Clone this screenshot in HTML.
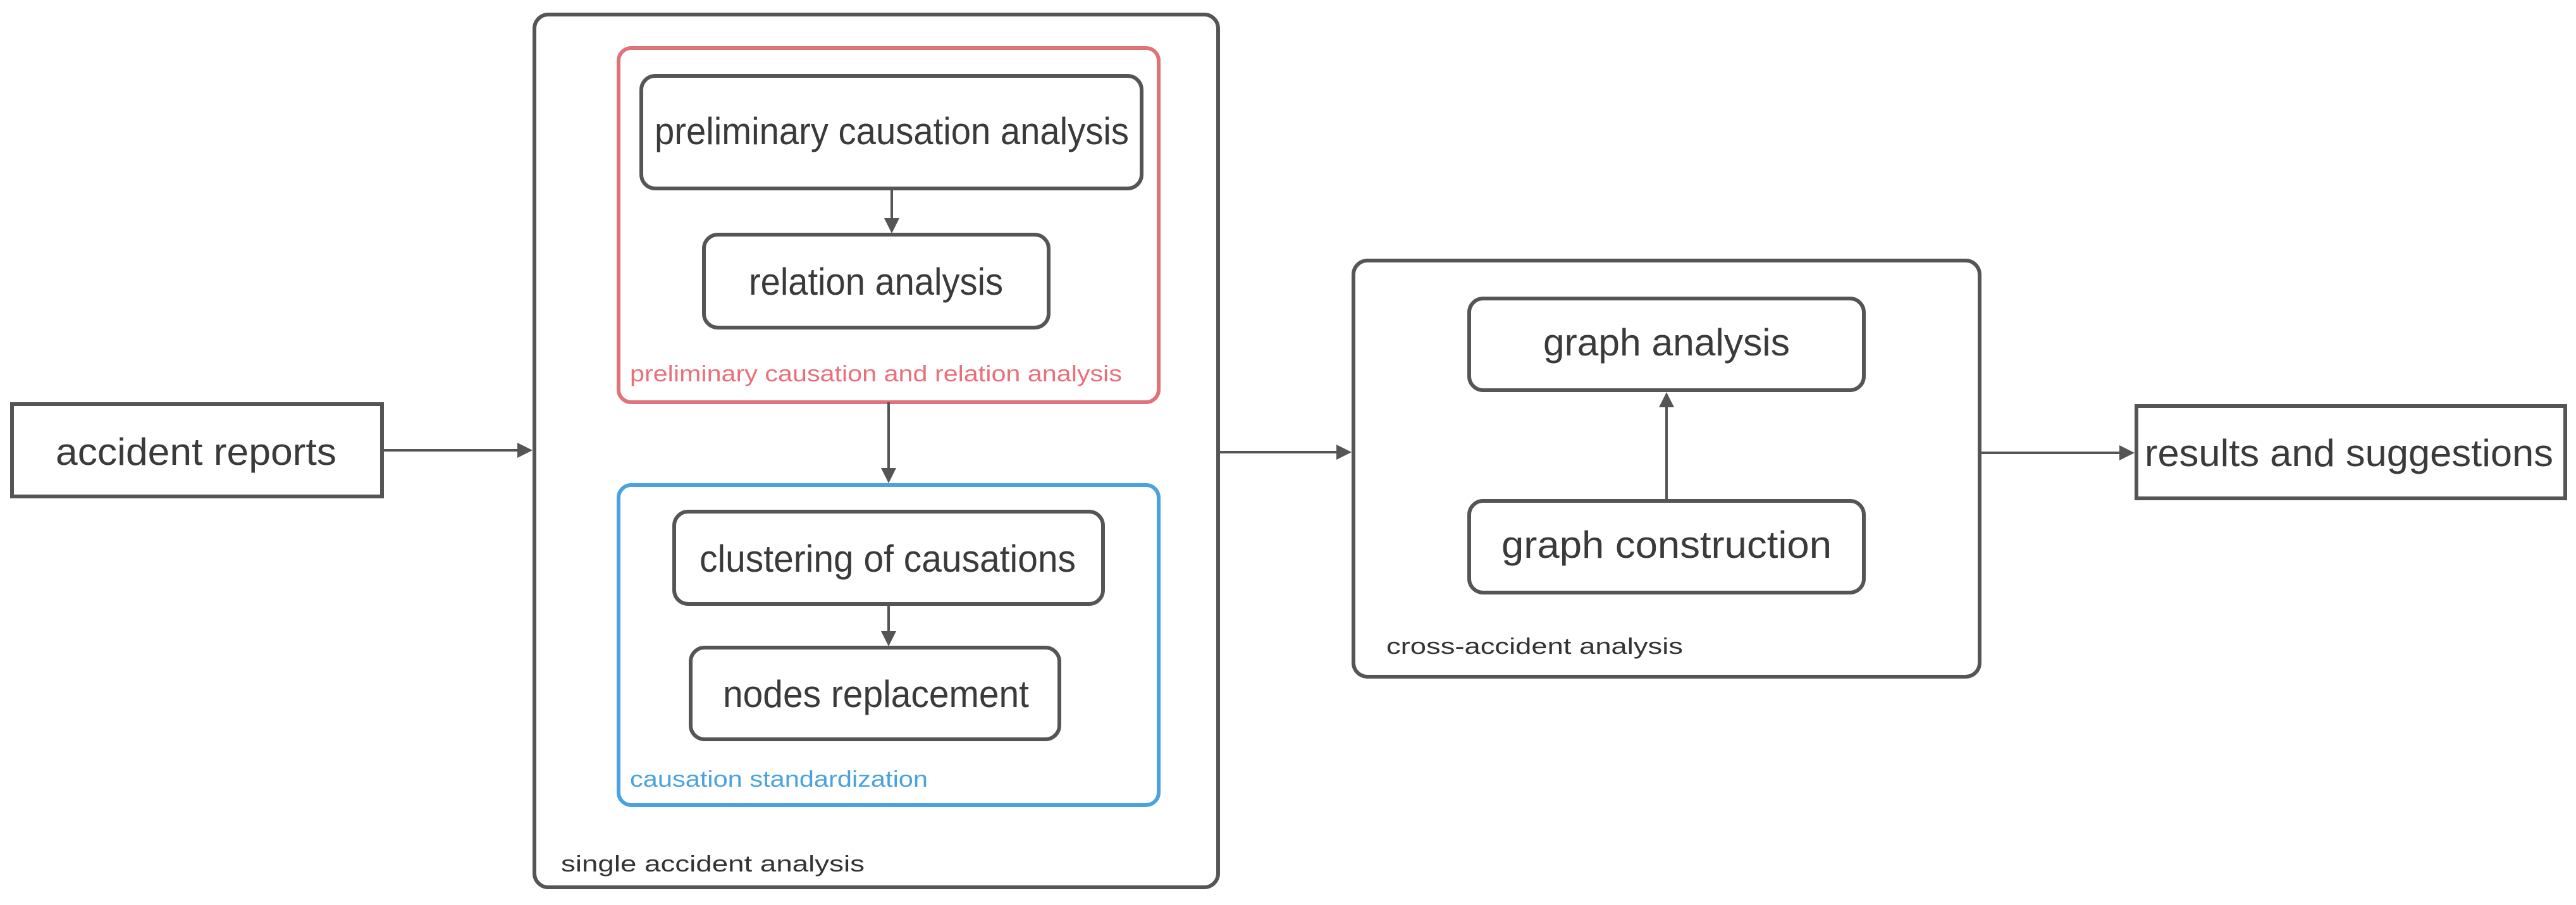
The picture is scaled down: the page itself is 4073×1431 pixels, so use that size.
<!DOCTYPE html>
<html><head><meta charset="utf-8"><style>html,body{margin:0;padding:0;background:#fff}svg{display:block}</style></head>
<body>
<svg width="4073" height="1431" viewBox="0 0 4073 1431" xmlns="http://www.w3.org/2000/svg" font-family="Liberation Sans, sans-serif">
<defs>
<marker id="a" markerWidth="6" markerHeight="6" refX="5" refY="3" orient="auto" markerUnits="strokeWidth"><path d="M0,0 L6,3 L0,6 z" fill="#555"/></marker>
</defs>
<g fill="none" stroke="#555" stroke-width="6">
<rect x="19" y="639" width="585" height="146"/>
<rect x="845" y="23" width="1081" height="1380" rx="22"/>
<rect x="1014" y="120" width="791" height="178" rx="22"/>
<rect x="1113" y="371" width="545" height="147" rx="22"/>
<rect x="1066" y="809" width="678" height="146" rx="22"/>
<rect x="1092" y="1024" width="583" height="145" rx="22"/>
<rect x="2140" y="412" width="990" height="658" rx="22"/>
<rect x="2323" y="472" width="624" height="145" rx="22"/>
<rect x="2323" y="792" width="624" height="145" rx="22"/>
<rect x="3378" y="642" width="678" height="146"/>
</g>
<rect x="978" y="76" width="854" height="560" rx="20" fill="none" stroke="#e0737a" stroke-width="6"/>
<rect x="978" y="767" width="854" height="506" rx="20" fill="none" stroke="#4aa3df" stroke-width="6"/>
<g stroke="#555" stroke-width="4" fill="none" marker-end="url(#a)">
<line x1="604" y1="712" x2="838" y2="712"/>
<line x1="1410" y1="298" x2="1410" y2="365"/>
<line x1="1405" y1="636" x2="1405" y2="760"/>
<line x1="1405" y1="955" x2="1405" y2="1018"/>
<line x1="1926" y1="715" x2="2133" y2="715"/>
<line x1="2635" y1="792" x2="2635" y2="624"/>
<line x1="3130" y1="716" x2="3371" y2="716"/>
</g>
<g fill="#3a3a3a" font-size="60">
<text x="88" y="735" textLength="444" lengthAdjust="spacingAndGlyphs">accident reports</text>
<text x="1035" y="228" textLength="750" lengthAdjust="spacingAndGlyphs">preliminary causation analysis</text>
<text x="1184" y="466" textLength="402" lengthAdjust="spacingAndGlyphs">relation analysis</text>
<text x="1106" y="904" textLength="595" lengthAdjust="spacingAndGlyphs">clustering of causations</text>
<text x="1143" y="1118" textLength="484" lengthAdjust="spacingAndGlyphs">nodes replacement</text>
<text x="2440" y="562" textLength="390" lengthAdjust="spacingAndGlyphs">graph analysis</text>
<text x="2374" y="882" textLength="522" lengthAdjust="spacingAndGlyphs">graph construction</text>
<text x="3391" y="737" textLength="646" lengthAdjust="spacingAndGlyphs">results and suggestions</text>
</g>
<g font-size="36">
<text x="996" y="603" fill="#e8707a" textLength="778" lengthAdjust="spacingAndGlyphs">preliminary causation and relation analysis</text>
<text x="996" y="1244" fill="#4aa3df" textLength="471" lengthAdjust="spacingAndGlyphs">causation standardization</text>
<text x="887" y="1378" fill="#333" textLength="480" lengthAdjust="spacingAndGlyphs">single accident analysis</text>
<text x="2192" y="1034" fill="#333" textLength="469" lengthAdjust="spacingAndGlyphs">cross-accident analysis</text>
</g>
</svg>
</body></html>
